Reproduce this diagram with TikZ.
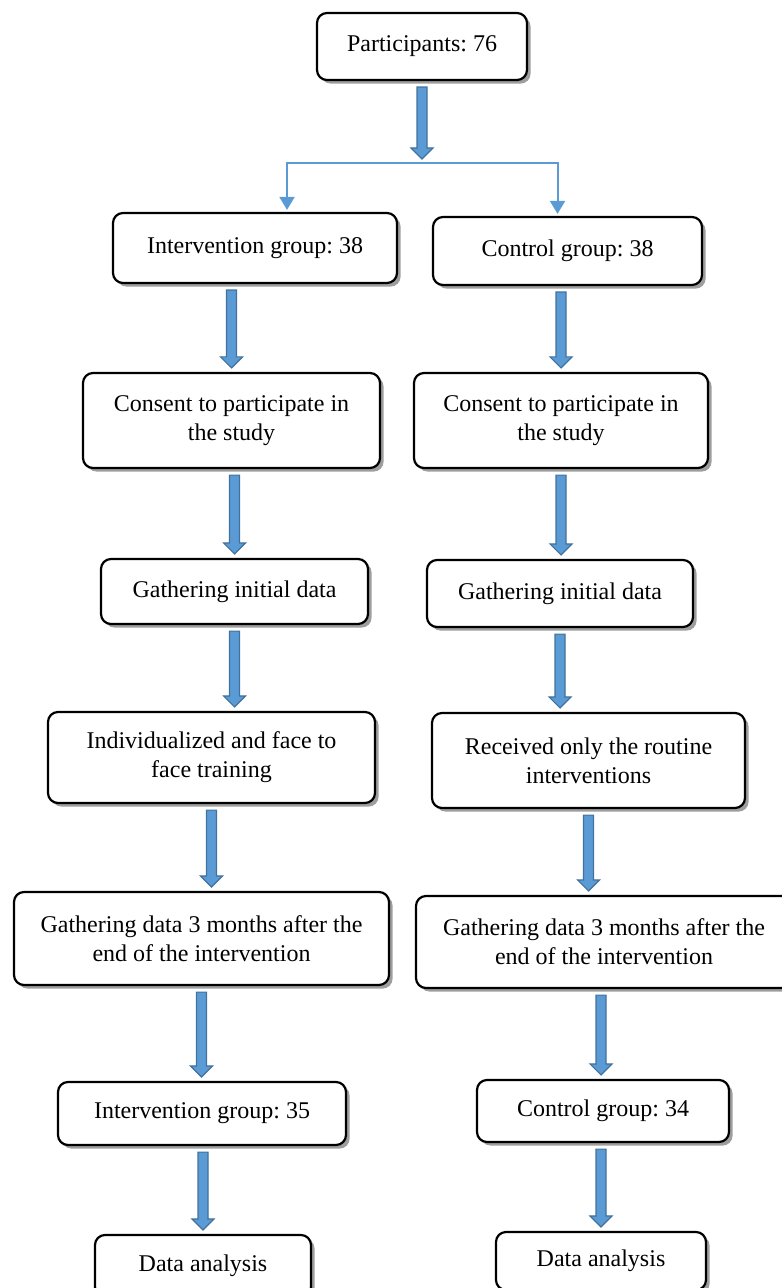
\documentclass[tikz,border=0pt]{standalone}
\usepackage{fontspec}
\setmainfont{Liberation Serif}
\frenchspacing
\usetikzlibrary{arrows.meta, calc, shadows}
\definecolor{flowfill}{HTML}{5B9BD5}
\definecolor{flowline}{HTML}{41719C}
\tikzset{
    x=0.5pt, y=-0.5pt, % one unit is one pixel of the scan
    box/.style={draw, line width=1.1pt, rounded corners=5pt, fill=white,
        align=center, inner sep=0pt, font=\fontsize{12}{14.5}\selectfont,
        drop shadow={shadow xshift=1.8pt, shadow yshift=-1.8pt, fill=black!38, opacity=1}}, % the rounded boxes
    flow/.style={fill=flowfill, draw=flowline, line width=0.6pt, line join=miter,
        to path={let \p1=(\tikztostart), \p2=(\tikztotarget) in
            (\x1-2.5pt,\y1-3pt) -- (\x1+2.5pt,\y1-3pt) -- (\x1+2.5pt,\y2+7.5pt)
            -- (\x1+5.5pt,\y2+7.5pt) -- (\x1,\y2+2pt) -- (\x1-5.5pt,\y2+7.5pt)
            -- (\x1-2.5pt,\y2+7.5pt) -- cycle}}, % the wide blue arrows
    forkline/.style={draw=flowfill, line width=1pt,
        {Triangle[width=7.5pt,length=6.5pt]}-{Triangle[width=7.5pt,length=6.5pt]},
        shorten <=1pt, shorten >=1pt}, % the thin branch below the top box
}
\begin{document}
\begin{tikzpicture}
    \useasboundingbox (0,0) rectangle (781,1288);
    % top
    \node[box, minimum width=105pt, minimum height=33.5pt] (part) at (422,46.5) {Participants: 76};
    \coordinate (fork) at (422,163);
    % left column
    \node[box, minimum width=142pt, minimum height=35pt] (ig38) at (255,248) {Intervention group: 38};
    \node[box, minimum width=148.5pt, minimum height=47.5pt] (cl1) at (231.5,420.5) {Consent to participate in\\the study};
    \node[box, minimum width=133.5pt, minimum height=32.5pt] (gl1) at (234.5,591.5) {Gathering initial data};
    \node[box, minimum width=163.5pt, minimum height=45.5pt] (tl) at (211.5,757.5) {Individualized and face to\\face training};
    \node[box, minimum width=187.5pt, minimum height=46.5pt] (dl) at (201.5,938.5) {Gathering data 3 months after the\\end of the intervention};
    \node[box, minimum width=144pt, minimum height=31.5pt] (ig35) at (202,1113.5) {Intervention group: 35};
    \node[box, minimum width=108pt, minimum height=31pt] (al) at (203,1266) {Data analysis};
    % right column
    \node[box, minimum width=134.5pt, minimum height=34pt] (cg38) at (567.5,251) {Control group: 38};
    \node[box, minimum width=147pt, minimum height=47.5pt] (cr1) at (561,420.5) {Consent to participate in\\the study};
    \node[box, minimum width=133pt, minimum height=33.5pt] (gr1) at (560,593.5) {Gathering initial data};
    \node[box, minimum width=156.5pt, minimum height=47.5pt] (rr) at (588.5,760.5) {Received only the routine\\interventions};
    \node[box, minimum width=188pt, minimum height=46pt] (dr) at (604,942) {Gathering data 3 months after the\\end of the intervention};
    \node[box, minimum width=126pt, minimum height=31pt] (cg34) at (603,1111) {Control group: 34};
    \node[box, minimum width=105pt, minimum height=29pt] (ar) at (601,1261) {Data analysis};
    % arrows
    \draw[flow] (part.south) to (fork);
    \draw[forkline] ([xshift=16pt]ig38.north) |- (fork) -| ([xshift=-5pt]cg38.north);
    \draw[flow] (cl1.north |- ig38.south) to (cl1.north);
    \draw[flow] (gl1.north |- cl1.south) to (gl1.north);
    \draw[flow] (gl1.south) to (tl.north -| gl1.south);
    \draw[flow] (tl.south) to (dl.north -| tl.south);
    \draw[flow] (dl.south) to (ig35.north -| dl.south);
    \draw[flow] (al.north |- ig35.south) to (al.north);
    \draw[flow] (cr1.north |- cg38.south) to (cr1.north);
    \draw[flow] (cr1.south) to (gr1.north -| cr1.south);
    \draw[flow] (gr1.south) to (rr.north -| gr1.south);
    \draw[flow] (rr.south) to (dr.north -| rr.south);
    \draw[flow] (ar.north |- dr.south) to (cg34.north -| ar.north);
    \draw[flow] (ar.north |- cg34.south) to (ar.north);
\end{tikzpicture}
\end{document}
